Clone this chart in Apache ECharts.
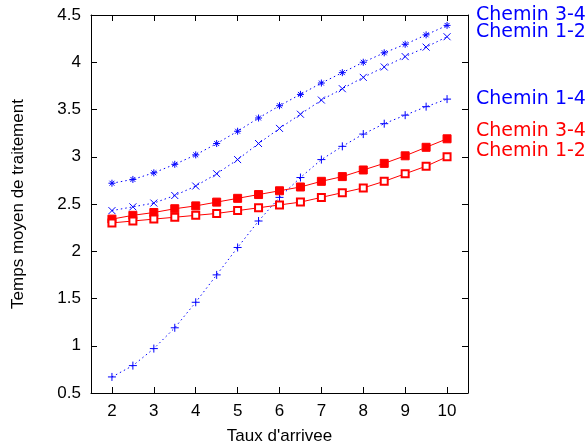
<!DOCTYPE html>
<html>
<head>
<meta charset="utf-8">
<script src="https://cdn.jsdelivr.net/npm/echarts@6/dist/echarts.min.js"></script>
<style>
  html, body { margin: 0; padding: 0; background: #fff; }
  #chart { width: 586px; height: 447px; }
</style>
</head>
<body>
<div id="chart"></div>
<script>
var taux = [2, 2.5, 3, 3.5, 4, 4.5, 5, 5.5, 6, 6.5, 7, 7.5, 8, 8.5, 9, 9.5, 10];
var xTicks = [2, 3, 4, 5, 6, 7, 8, 9, 10];

// bleu : pointilles
var chemin34Bleu = [2.72, 2.76, 2.83, 2.92, 3.02, 3.14, 3.27, 3.41, 3.54, 3.66, 3.78, 3.89, 4.00, 4.10, 4.19, 4.29, 4.39];
var chemin12Bleu = [2.43, 2.47, 2.51, 2.59, 2.69, 2.82, 2.97, 3.14, 3.30, 3.45, 3.60, 3.72, 3.84, 3.95, 4.06, 4.16, 4.27];
var chemin14Bleu = [0.67, 0.79, 0.97, 1.19, 1.46, 1.75, 2.04, 2.32, 2.57, 2.78, 2.97, 3.11, 3.24, 3.35, 3.44, 3.53, 3.61];
// rouge : traits pleins
var chemin34Rouge = [2.34, 2.38, 2.41, 2.45, 2.48, 2.52, 2.56, 2.60, 2.64, 2.68, 2.74, 2.79, 2.86, 2.93, 3.01, 3.10, 3.19];
var chemin12Rouge = [2.30, 2.32, 2.34, 2.36, 2.38, 2.40, 2.43, 2.46, 2.49, 2.52, 2.57, 2.62, 2.67, 2.74, 2.82, 2.90, 3.00];

var BLEU = '#0000ff', ROUGE = '#ff0000';
var symPlus = 'path://M0,5L10,5M5,0L5,10';
var symCroix = 'path://M0,0L10,10M10,0L0,10';
var symEtoile = 'path://M0,5L10,5M5,0L5,10M1.5,1.5L8.5,8.5M8.5,1.5L1.5,8.5';

function pairs(ys) {
    return taux.map(function (x, i) { return [x, ys[i]]; });
}

function serie(name, ys, color, symbol, size, dotted, dy) {
    return {
        name: name,
        type: 'line',
        data: pairs(ys),
        symbol: symbol,
        symbolSize: size,
        showAllSymbol: true,
        lineStyle: { color: color, width: 1, type: dotted ? [1.5, 3] : 'solid' },
        itemStyle: { color: color, borderColor: color, borderWidth: 1 },
        endLabel: {
            show: true,
            formatter: name,
            color: color,
            fontFamily: 'DejaVu Sans',
            fontSize: 19,
            distance: 5,
            offset: [24, dy]
        },
        z: 3
    };
}

var chart = echarts.init(document.getElementById('chart'));
var axisTxt = { color: '#000', fontFamily: 'Liberation Sans', fontSize: 17 };

chart.setOption({
    animation: false,
    grid: { left: 91, right: 118, top: 15, bottom: 54, outerBoundsMode: 'none' },
    xAxis: [{
        type: 'value', min: 1.5, max: 10.5,
        name: "Taux d'arrivee", nameLocation: 'middle', nameGap: 35,
        nameTextStyle: axisTxt,
        axisLine: { show: true, onZero: false, lineStyle: { color: '#000', width: 1 } },
        axisTick: { show: true, inside: true, length: 6, customValues: xTicks, lineStyle: { color: '#000' } },
        axisLabel: Object.assign({ margin: 10, customValues: xTicks }, axisTxt),
        splitLine: { show: false }
    }, {
        type: 'value', min: 1.5, max: 10.5, position: 'top',
        axisLine: { show: true, onZero: false, lineStyle: { color: '#000', width: 1 } },
        axisTick: { show: true, inside: true, length: 6, customValues: xTicks, lineStyle: { color: '#000' } },
        axisLabel: { show: false },
        splitLine: { show: false }
    }],
    yAxis: [{
        type: 'value', min: 0.5, max: 4.5, interval: 0.5,
        name: 'Temps moyen de traitement', nameLocation: 'middle', nameGap: 64,
        nameTextStyle: axisTxt,
        axisLine: { show: true, onZero: false, lineStyle: { color: '#000', width: 1 } },
        axisTick: { show: true, inside: true, length: 6, lineStyle: { color: '#000' } },
        axisLabel: Object.assign({ margin: 10 }, axisTxt),
        splitLine: { show: false }
    }, {
        type: 'value', min: 0.5, max: 4.5, interval: 0.5, position: 'right',
        axisLine: { show: true, onZero: false, lineStyle: { color: '#000', width: 1 } },
        axisTick: { show: true, inside: true, length: 6, lineStyle: { color: '#000' } },
        axisLabel: { show: false },
        splitLine: { show: false }
    }],
    series: [
        serie('Chemin 3-4', chemin34Bleu, BLEU, symEtoile, 7, true, -10),
        serie('Chemin 1-2', chemin12Bleu, BLEU, symCroix, 7, true, -5),
        serie('Chemin 1-4', chemin14Bleu, BLEU, symPlus, 8, true, 0),
        serie('Chemin 3-4', chemin34Rouge, ROUGE, 'rect', 8, false, -8),
        serie('Chemin 1-2', chemin12Rouge, ROUGE, 'emptyRect', 7, false, -6)
    ]
});
</script>
</body>
</html>
